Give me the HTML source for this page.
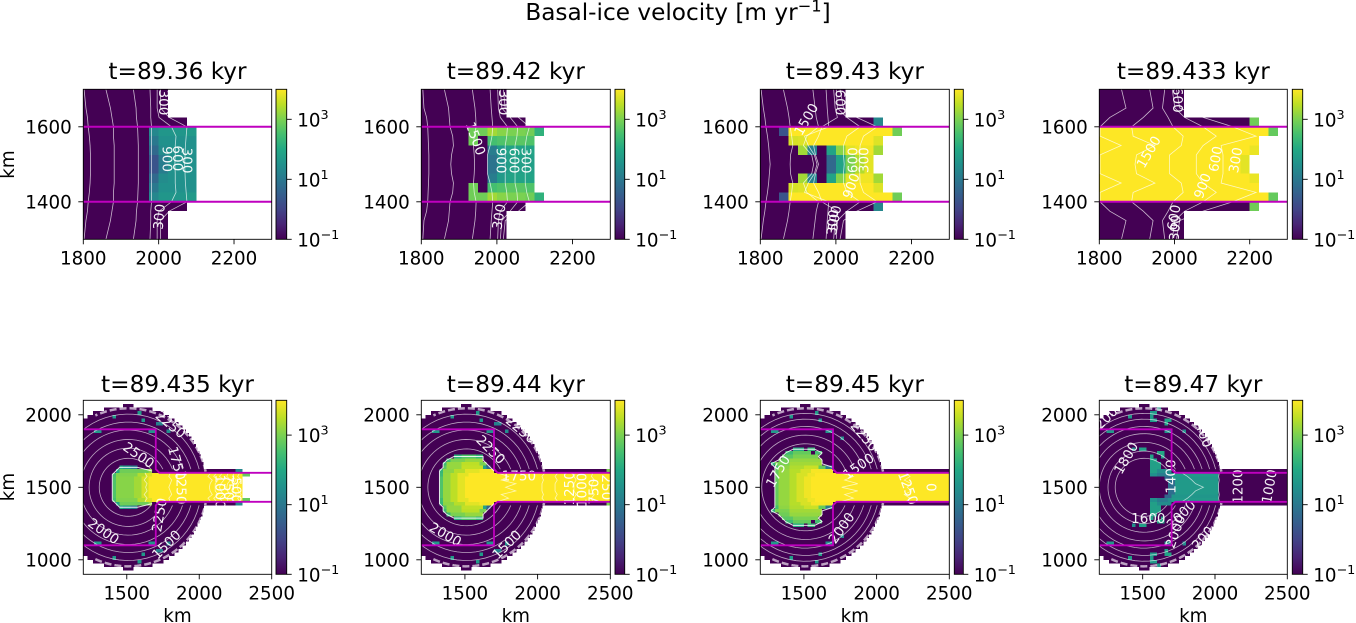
<!DOCTYPE html>
<html lang="en">
<head>
<meta charset="utf-8">
<title>Basal-ice velocity</title>
<style>
html,body{margin:0;padding:0;background:#fff;}
svg{display:block;font-family:"DejaVu Sans","Liberation Sans",sans-serif;}
</style>
</head>
<body>
<svg id="figure" xmlns="http://www.w3.org/2000/svg" width="1356" height="623" viewBox="0 0 1356 623">
  <defs>
    <linearGradient id="viridis-grad" x1="0" y1="1" x2="0" y2="0">
      <stop offset="0" stop-color="#440154"/><stop offset="0.1" stop-color="#482475"/>
      <stop offset="0.2" stop-color="#414487"/><stop offset="0.3" stop-color="#355f8d"/>
      <stop offset="0.4" stop-color="#2a788e"/><stop offset="0.5" stop-color="#21918c"/>
      <stop offset="0.6" stop-color="#22a884"/><stop offset="0.7" stop-color="#44bf70"/>
      <stop offset="0.8" stop-color="#7ad151"/><stop offset="0.9" stop-color="#bddf26"/>
      <stop offset="1" stop-color="#fde725"/>
    </linearGradient>
  </defs>
  <rect x="0" y="0" width="1356" height="623" fill="#fff"/>
  <text x="678" y="20" font-size="23.2" text-anchor="middle">Basal-ice velocity [m yr<tspan font-size="16.3" dy="-8.5">−1</tspan><tspan dy="8.5">]</tspan></text>

  <g id="panel-0"><text x="177.5" y="79" font-size="23.2" text-anchor="middle">t=89.36 kyr</text></g>
  <g id="panel-1"><text x="515.8" y="79" font-size="23.2" text-anchor="middle">t=89.42 kyr</text></g>
  <g id="panel-2"><text x="854.8" y="79" font-size="23.2" text-anchor="middle">t=89.43 kyr</text></g>
  <g id="panel-3"><text x="1193.3" y="79" font-size="23.2" text-anchor="middle">t=89.433 kyr</text></g>
  <g id="panel-4"><text x="177.5" y="392" font-size="23.2" text-anchor="middle">t=89.435 kyr</text></g>
  <g id="panel-5"><text x="515.8" y="392" font-size="23.2" text-anchor="middle">t=89.44 kyr</text></g>
  <g id="panel-6"><text x="854.8" y="392" font-size="23.2" text-anchor="middle">t=89.45 kyr</text></g>
  <g id="panel-7"><text x="1193.3" y="392" font-size="23.2" text-anchor="middle">t=89.47 kyr</text></g>

  <text x="0" y="0" transform="translate(14,164.5) rotate(-90)" font-size="18.3" text-anchor="middle">km</text>
  <text x="0" y="0" transform="translate(14,487) rotate(-90)" font-size="18.3" text-anchor="middle">km</text>
  <text x="177.5" y="622" font-size="18.3" text-anchor="middle">km</text>
  <text x="515.8" y="622" font-size="18.3" text-anchor="middle">km</text>
  <text x="854.8" y="622" font-size="18.3" text-anchor="middle">km</text>
  <text x="1193.3" y="622" font-size="18.3" text-anchor="middle">km</text>
</svg>
<script>
// ---- shared axis data ----
const D = -1;
const _ = null;
const topXTicks = [1800, 2000, 2200];
const topYTicks = [1400, 1600];
const bottomXTicks = [1500, 2000, 2500];
const bottomYTicks = [1000, 1500, 2000];
const colorbarTicks = [-1, 1, 3];
const colorbarTickLabels = ["−1", "1", "3"];
const colorLogMin = -1;
const colorLogMax = 4;
const viridisStops = ["#440154","#482475","#414487","#355f8d","#2a788e","#21918c","#22a884","#44bf70","#7ad151","#bddf26","#fde725"];

// ---- top-row velocity (log10 m/yr), 25 km cells, rows 1700->1500 (mirrored about 1500), cols from 1800 km ----
const topGrid0 = [
 [D,D,D,D,D,D,D,D,D],
 [D,D,D,D,D,D,D,D,D],
 [D,D,D,D,D,D,D,D,D],
 [D,D,D,D,D,D,D,D,D,D,D],
 [D,D,D,D,D,D,D,1.3,1.6,1.6,1.6,1.7],
 [D,D,D,D,D,D,D,1.0,1.5,1.5,1.5,1.5],
 [D,D,D,D,D,D,D,0.7,1.4,1.5,1.5,1.5],
 [D,D,D,D,D,D,D,0.3,1.1,1.5,1.5,1.5]
];
const topGrid1 = [
 [D,D,D,D,D,D,D,D,D],
 [D,D,D,D,D,D,D,D,D],
 [D,D,D,D,D,D,D,D,D],
 [D,D,D,D,D,D,D,D,D,D,D],
 [D,D,D,D,D,2.9,2.9,3.3,3.1,3.0,3.0,2.9,2.2],
 [D,D,D,D,D,2.9,D,2.5,2.6,2.7,2.7,2.6],
 [D,D,D,D,D,D,D,1.1,1.7,1.9,1.9,1.9],
 [D,D,D,D,D,D,D,0.9,1.5,1.8,1.8,1.8]
];
const topGrid2 = [
 [D,D,D,D,D,D,D,D,D],
 [D,D,D,D,D,D,D,D,D],
 [D,D,D,D,D,D,D,D,D],
 [D,D,D,D,D,D,D,D,D,D,D,D,1.3],
 [D,D,0.3,4,4,4,4,4,4,4,4,4,4,4,2.9],
 [D,D,D,3.7,3.75,4,4,4,4,4,4,4,3.75],
 [D,D,D,D,3.3,1.2,D,1.9,3.1,3.8,3.9,3.9,3.3],
 [D,D,D,D,D,D,D,0.7,1.9,3.0,3.4,3.8]
];
const topGrid3 = [
 [D,D,D,D,D,D,D,D,D],
 [D,D,D,D,D,D,D,D,D],
 [D,D,D,D,D,D,D,D,D],
 [D,D,D,D,D,D,D,D,D,D,D,D,D,D,D,D,2.9],
 [4,4,4,4,4,4,4,4,4,4,4,4,4,4,4,4,4,4,2.8],
 [4,4,4,4,4,4,4,4,4,4,4,4,4,4,4,4,4],
 [4,4,4,4,4,4,4,4,4,4,4,4,4,4,4,4,3.85],
 [4,4,4,4,4,4,4,4,4,4,4,4,4,4,4,3.8]
];
const topGrids = [topGrid0, topGrid1, topGrid2, topGrid3];

// contour x-position (km) per contour, at each of these y levels (mirrored about 1500)
const topContourY = [1700,1650,1625,1600,1575,1550,1525,1500];
const topContours0 = [
 [1802,1807,1811,1813,1816,1818,1819,1819],
 [1860,1872,1876,1880,1880,1882,1882,1882],
 [1933,1940,1941,1944,1945,1946,1946,1946],
 [1977,1979,1979,1981,1981,1981,1981,1981],
 [1996,1996,2001,2034,2046,2044,2044,2043],
 [2005,2005,2028,2075,2073,2071,2070,2069]
];
const topContours1 = [
 [1804,1807,1814,1817,1818,1819,1820,1820],
 [1861,1872,1874,1876,1883,1885,1880,1878],
 [1935,1942,1944,1945,1940,1938,1940,1941],
 [1982,1985,1987,1989,1987,1982,1975,1975],
 [2002,2004,2009,2028,2026,2022,2022,2022],
 [2009,2013,2035,2055,2053,2048,2048,2048],
 [2017,2022,2057,2086,2079,2075,2075,2075]
];
const topContours2 = [
 [1802,1808,1812,1815,1819,1822,1824,1826],
 [1861,1872,1876,1879,1883,1886,1880,1879],
 [1939,1945,1948,1954,1923,1914,1936,1941],
 [1974,1977,1979,1981,1917,1927,1943,1950],
 [1994,1998,2004,1963,1954,1941,1946,1954],
 [2001,2004,2029,2064,2029,2020,2020,2022],
 [2011,2020,2055,2109,2073,2064,2063,2063]
];
const topContours3 = [
 [1859,1871,1828,1802,1802,1858,1802,1802],
 [1934,1943,1917,1886,1890,1948,1899,1895],
 [1974,1968,1983,1996,2023,2018,1987,1987],
 [1994,2001,2027,2076,2111,2076,2058,2058],
 [2005,2014,2076,2155,2217,2124,2129,2129]
];
const topContours = [topContours0, topContours1, topContours2, topContours3];

// contour labels: text, x km, y km, rotation
const topLabels0 = [["300",2012,1665,90],["900",2021,1514,90],["600",2049,1516,90],["300",2074,1510,90],["300",2003,1360,-85]];
const topLabels1 = [["300",2016,1665,90],["1500",1942,1568,70],["900",2009,1510,90],["600",2044,1510,90],["300",2075,1510,90],["300",2007,1360,-80]];
const topLabels2 = [["1500",1923,1619,-60],["600",2010,1665,90],["600",2047,1511,-90],["300",2076,1511,-90],["900",2042,1442,-70],["500",1998,1356,-80],["300",1993,1345,-85]];
const topLabels3 = [["1500",1933,1532,-60],["600",2111,1514,-80],["300",2164,1511,-80],["900",2076,1442,-70],["600",2007,1672,90],["300",2003,1330,-85],["600",2000,1358,-80]];
const topLabels = [topLabels0, topLabels1, topLabels2, topLabels3];

// ---- bottom-row data: half rows j outward from y=1500, 25 km tall ----
const diskCentreX = 1510;
const diskHalfWidth = [530,530,530,530,530,523,519,512,502,491,479,468,454,438,420,399,376,346,318,281,242,166,37];
const channelEnd = [2300, 2500, 2500, 2500];
const rimRadius = 545;

const fastRuns0 = [
 [[1400,1425,2.6],[1425,1550,3.1],[1550,1600,3.3],[1600,1650,3.7],[1650,2300,4]],
 [[1400,1425,2.6],[1425,1550,3.1],[1550,1600,3.3],[1600,1650,3.7],[1650,2300,4]],
 [[1400,1425,2.6],[1425,1550,3.1],[1550,1600,3.3],[1600,1650,3.7],[1650,2300,4]],
 [[1400,1425,2.5],[1425,1575,3.05],[1575,1625,3.4],[1625,1675,3.75],[1675,2300,4],[2300,2350,2.8]],
 [[1425,1450,2.0],[1450,1650,2.9],[1650,1675,3.2],[2250,2300,1.3]],
 [[1450,1475,2.0],[1475,1525,1.6],[1525,1575,1.1]]
];
const fastRuns1 = [
 [[1325,1350,2.6],[1350,1400,3.2],[1400,1450,3.5],[1450,1500,3.8],[1500,2500,4]],
 [[1325,1350,2.6],[1350,1400,3.2],[1400,1450,3.5],[1450,1500,3.8],[1500,2500,4]],
 [[1325,1350,2.6],[1350,1400,3.2],[1400,1450,3.5],[1450,1500,3.8],[1500,2500,4]],
 [[1325,1350,2.4],[1350,1400,3.2],[1400,1450,3.5],[1450,1525,3.8],[1525,2500,4]],
 [[1325,1350,2.3],[1350,1425,3.15],[1425,1500,3.45],[1500,1600,3.8],[1600,1700,3.95],[2475,2500,3]],
 [[1350,1375,2.7],[1375,1475,3.2],[1475,1625,3.55],[1625,1650,1.9],[1650,1675,0.6]],
 [[1350,1375,2.4],[1375,1475,3.2],[1475,1600,3.5],[1600,1650,3.0]],
 [[1375,1400,2.4],[1400,1500,3.0],[1500,1625,3.2]],
 [[1425,1475,2.2],[1475,1575,2.6],[1575,1625,2.3]]
];
const fastRuns2 = [
 [[1300,1325,2.8],[1325,1400,3.2],[1400,1450,3.45],[1450,1500,3.7],[1500,1550,3.9],[1550,2500,4]],
 [[1300,1325,2.8],[1325,1400,3.2],[1400,1450,3.45],[1450,1500,3.7],[1500,1550,3.9],[1550,2500,4]],
 [[1300,1325,2.8],[1325,1400,3.2],[1400,1450,3.45],[1450,1500,3.7],[1500,1550,3.9],[1550,2500,4]],
 [[1300,1325,2.8],[1325,1400,3.2],[1400,1450,3.45],[1450,1525,3.7],[1525,1575,3.9],[1575,2500,4]],
 [[1300,1325,2.8],[1325,1400,3.2],[1400,1475,3.45],[1475,1550,3.7],[1550,1700,3.95]],
 [[1300,1325,2.5],[1325,1400,3.15],[1400,1500,3.4],[1500,1600,3.6],[1600,1650,2.8],[1650,1700,1.0]],
 [[1275,1300,2.2],[1300,1400,3.0],[1400,1625,3.3]],
 [[1325,1400,2.9],[1400,1625,3.2]],
 [[1350,1425,2.7],[1425,1600,3.0]],
 [[1375,1425,2.4],[1425,1550,2.8],[1575,1625,2.5]],
 [[1425,1500,2.1],[1525,1575,2.3]]
];
const fastRuns3 = [
 [[1675,1725,0.8],[1725,2025,1.7]],
 [[1675,1725,0.8],[1725,2025,1.7]],
 [[1650,1700,0.6],[1700,2025,1.6]],
 [[1550,1600,1.5],[1600,1675,1.1],[1675,1700,1.4],[1700,2025,1.7]],
 [[1550,1600,1.8],[1600,1700,1.4]],
 [[1550,1625,1.8]],
 [[1550,1625,1.8]],
 [[1550,1600,1.9]],
 [[1550,1575,1.9],[1625,1650,1.9]],
 [[1600,1650,2.0]],
 [[1425,1450,1.5],[1475,1525,1.8]]
];
const fastRuns = [fastRuns0, fastRuns1, fastRuns2, fastRuns3];
const outlinedPanels = [true, true, true, false];

// isolated fast cells: x km start, half-row j, width km, log10 velocity
const specks0 = [[1400,19,25,1.7],[1575,20,25,1.7],[1600,18,25,1.7],[1275,15,50,1.7],[1650,15,50,1.6],[1700,17,50,1.2],[1775,15,25,1.4]];
const specks1 = [[1400,19,25,1.7],[1575,20,25,1.7],[1600,18,25,1.7],[1275,15,50,1.7],[1650,15,50,1.6],[1700,17,50,1.2],[1775,15,25,1.4]];
const specks2 = [[1400,19,25,1.7],[1575,20,25,1.7],[1600,18,25,1.7],[1275,15,50,1.7],[1650,15,50,1.6],[1750,13,25,1.4]];
const specks3 = [[1400,19,25,1.7],[1550,20,50,1.7],[1550,19,25,1.7],[1550,18,50,1.7],[1650,18,50,1.9],[1650,17,25,1.9],[1600,21,25,1.7],[1250,15,50,1.7],[1650,15,50,1.6],[1775,15,25,1.4]];
const specks = [specks0, specks1, specks2, specks3];

// concentric contour radii (km)
const ringRadii0 = [200,270,330,395,450,505];
const ringRadii1 = [265,330,395,450,505];
const ringRadii2 = [300,360,420,470,510];
const ringRadii3 = [200,250,310,370,420,470,510];
const ringRadii = [ringRadii0, ringRadii1, ringRadii2, ringRadii3];

// channel contours: x km at each channel y level (mirrored about 1500)
const channelY = [1600,1575,1550,1525,1500];
const channelContours0 = [
 [1625,1640,1620,1640,1630],[1800,1790,1810,1800,1790],[2080,2060,2090,2075,2070],[2120,2100,2130,2110,2110],
 [2160,2140,2170,2150,2140],[2200,2190,2215,2195,2190],[2240,2230,2255,2235,2230],[2280,2265,2290,2270,2260]
];
const channelContours1 = [
 [1720,1800,1750,1850,1780],[2050,2030,2040,2030,2030],[2140,2120,2135,2120,2120],[2260,2250,2265,2250,2250],[2380,2370,2390,2375,2370]
];
const channelContours2 = [
 [1750,1840,1780,1870,1760],[2200,2230,2190,2240,2210]
];
const channelContours3 = [
 [1770,1810,1840,1865,1920],[2030,2025,2030,2025,2025]
];
const channelContours = [channelContours0, channelContours1, channelContours2, channelContours3];

const bottomLabels0 = [["2500",1580,1718,35],["2000",1338,1194,35],["2250",1730,1309,-80],["2250",1800,1930,40],["1500",1776,1102,-45],["1750",1841,1665,75],["1250",1870,1500,90],["1000",2140,1470,90],["750",2200,1500,90],["500",2250,1480,90]];
const bottomLabels1 = [["2250",1675,1757,45],["2250",1882,1895,40],["2000",1364,1171,30],["1500",1790,1102,-45],["1750",1871,1574,0],["1250",2224,1493,-90],["1000",2309,1482,-90],["750",2390,1470,-90],["250",2470,1500,90]];
const bottomLabels2 = [["2000",1762,1217,-55],["1250",2212,1493,70],["1500",1878,1642,-35],["1750",1325,1608,-60],["2250",1912,1849,50],["0",2370,1500,90]];
const bottomLabels3 = [["1800",1389,1700,-60],["1600",1539,1282,0],["2000",1730,1194,-70],["2000",1769,1309,-45],["1400",1700,1574,-90],["1200",2161,1505,-90],["1000",2380,1505,-80],["200",1251,1976,-45],["200",1919,1148,-50],["400",1919,1860,70]];
const bottomLabels = [bottomLabels0, bottomLabels1, bottomLabels2, bottomLabels3];

const wallUpper = [[1200,1900],[1700,1900],[1700,1625],[1725,1600],[2500,1600]];
const wallLower = [[1200,1100],[1700,1100],[1700,1375],[1725,1400],[2500,1400]];
const troughEdges = [1400, 1600];

// ---- layout (pixels), separate from the data above ----
const axLeft = [83.3, 421.3, 760.3, 1099.3];
const axRight = [271.7, 610.3, 949.3, 1287.3];
const cbLeft = [276, 615, 954.3, 1292.3];
const cbRight = [286.7, 624.7, 963.3, 1302.7];
const rowTop = [89.3, 400.3];
const rowBottom = [239.3, 574.3];
const rowXRange = [[1800, 2300], [1200, 2500]];
const rowYRange = [[1300, 1700], [900, 2100]];

const NS = "http://www.w3.org/2000/svg";

function colorFor(logV) {
  const t = Math.max(0, Math.min(1, (logV - colorLogMin) / (colorLogMax - colorLogMin)));
  const p = t * (viridisStops.length - 1);
  const i = Math.min(viridisStops.length - 2, Math.floor(p));
  const f = p - i;
  const a = viridisStops[i], b = viridisStops[i + 1];
  const ch = (s, k) => parseInt(s.substr(1 + 2 * k, 2), 16);
  const mix = k => Math.round(ch(a, k) + (ch(b, k) - ch(a, k)) * f);
  return "rgb(" + mix(0) + "," + mix(1) + "," + mix(2) + ")";
}
function make(tag, parent, attrs) {
  const e = document.createElementNS(NS, tag);
  for (const k in attrs) e.setAttribute(k, attrs[k]);
  parent.appendChild(e);
  return e;
}

function drawPanel(col, row) {
  const index = col + row * 4;
  const g = document.getElementById("panel-" + index);
  const L = axLeft[col], R = axRight[col], T = rowTop[row], B = rowBottom[row];
  const xr = rowXRange[row], yr = rowYRange[row];
  const X = km => L + (km - xr[0]) * (R - L) / (xr[1] - xr[0]);
  const Y = km => B - (km - yr[0]) * (B - T) / (yr[1] - yr[0]);

  const clip = make("clipPath", g, { id: "axes-clip-" + index });
  make("rect", clip, { x: L, y: T, width: R - L, height: B - T });

  const body = make("g", g, { "clip-path": "url(#axes-clip-" + index + ")" });
  
  
  const mesh = make("g", body, { "shape-rendering": "crispEdges" });
  
  

  const cell = (x0, x1, y0, y1, v) => {
    const r = make("rect", mesh, { x: X(x0), y: Y(y1), width: X(x1) - X(x0), height: Y(y0) - Y(y1), fill: colorFor(v) });
    
    
  };

  if (row === 0) {
    const half = topGrids[col];
    half.forEach((vals, i) => {
      vals.forEach((v, c) => {
        if (v === _) return;
        const x0 = 1800 + 25 * c;
        cell(x0, x0 + 25, 1700 - 25 * (i + 1), 1700 - 25 * i, v);
        cell(x0, x0 + 25, 1300 + 25 * i, 1300 + 25 * (i + 1), v);
      });
    });
    const lines = make("g", body, { fill: "none", stroke: "#fff", "stroke-width": 0.8, "stroke-opacity": 0.72 });
    
    
    topContours[col].forEach(xs => {
      const pts = [];
      xs.forEach((x, i) => pts.push(X(x) + "," + Y(topContourY[i])));
      for (let i = xs.length - 2; i >= 0; i--) pts.push(X(xs[i]) + "," + Y(3000 - topContourY[i]));
      const p = make("polyline", lines, { points: pts.join(" ") });
      
      
    });
  } else {
    const iceClip = make("clipPath", g, { id: "ice-clip-" + index });
    diskHalfWidth.forEach((hw, j) => {
      const baseEnd = j <= 4 ? Math.max(channelEnd[col], diskCentreX + hw) : diskCentreX + hw;
      cell(diskCentreX - hw, baseEnd, 1500 + 25 * j, 1500 + 25 * (j + 1), D);
      cell(diskCentreX - hw, baseEnd, 1500 - 25 * (j + 1), 1500 - 25 * j, D);
      make("rect", iceClip, { x: X(diskCentreX - hw), y: Y(1500 + 25 * (j + 1)), width: X(baseEnd) - X(diskCentreX - hw), height: Y(1500 - 25 * (j + 1)) - Y(1500 + 25 * (j + 1)) });
    });
    fastRuns[col].forEach((runs, j) => {
      runs.forEach(run => {
        cell(run[0], run[1], 1500 + 25 * j, 1500 + 25 * (j + 1), run[2]);
        cell(run[0], run[1], 1500 - 25 * (j + 1), 1500 - 25 * j, run[2]);
      });
    });
    specks[col].forEach(s => {
      cell(s[0], s[0] + s[2], 1500 + 25 * s[1], 1500 + 25 * (s[1] + 1), s[3]);
      cell(s[0], s[0] + s[2], 1500 - 25 * (s[1] + 1), 1500 - 25 * s[1], s[3]);
    });

    const lines = make("g", body, { fill: "none", stroke: "#fff", "stroke-width": 0.8, "stroke-opacity": 0.65, "clip-path": "url(#ice-clip-" + index + ")" });
    
    
    const arcPath = (r, a0, a1) => {
      const n = 60, pts = [];
      for (let i = 0; i <= n; i++) {
        const a = a0 + (a1 - a0) * i / n;
        pts.push(X(diskCentreX + r * Math.cos(a)) + "," + Y(1500 + r * Math.sin(a)));
      }
      return pts.join(" ");
    };
    ringRadii[col].forEach(r => {
      const a0 = Math.asin(Math.min(1, 125 / r));
      const p = make("polyline", lines, { points: arcPath(r, a0, 2 * Math.PI - a0) });
      
      
    });
    if (outlinedPanels[col]) {
      const runs = fastRuns[col];
      const up = [];
      for (let j = 4; j < runs.length; j++) {
        const inside = runs[j].filter(r => r[1] <= 1800);
        if (inside.length) up.push([inside[inside.length - 1][1], 1512.5 + 25 * j]);
      }
      for (let j = runs.length - 1; j >= 0; j--) up.push([runs[j][0][0], 1512.5 + 25 * j]);
      const full = up.concat(up.slice().reverse().map(p => [p[0], 3000 - p[1]]));
      const o = make("polyline", lines, { points: full.map(p => X(p[0]) + "," + Y(p[1])).join(" "), "stroke-width": 1, "stroke-opacity": 0.85 });
      
      
    }
    const rimTop = make("polyline", lines, { points: arcPath(rimRadius, 0.2, 2.0), stroke: "#f2e8f4", "stroke-width": 2.5, "stroke-dasharray": "7 3", "stroke-opacity": 0.7 });
    
    
    const rimBottom = make("polyline", lines, { points: arcPath(rimRadius, -2.0, -0.2), stroke: "#f2e8f4", "stroke-width": 2.5, "stroke-dasharray": "7 3", "stroke-opacity": 0.7 });
    
    
    channelContours[col].forEach(xs => {
      const pts = [];
      xs.forEach((x, i) => pts.push(X(x) + "," + Y(channelY[i])));
      for (let i = xs.length - 2; i >= 0; i--) pts.push(X(xs[i]) + "," + Y(3000 - channelY[i]));
      const p = make("polyline", lines, { points: pts.join(" ") });
      
      
    });
  }

  // contour labels
  const labels = row === 0 ? topLabels[col] : bottomLabels[col];
  labels.forEach(l => {
    const t = make("text", body, { x: X(l[1]), y: Y(l[2]), "font-size": 13.5, fill: "#fff", "fill-opacity": 0.95, "text-anchor": "middle", "dominant-baseline": "central", transform: "rotate(" + l[3] + " " + X(l[1]) + " " + Y(l[2]) + ")" });
    t.textContent = l[0];
    
    
  });

  // magenta grounding walls
  const wallStyle = { fill: "none", stroke: "#bf00bf", "stroke-width": row === 0 ? 2 : 1.8 };
  if (row === 0) {
    troughEdges.forEach(y => {
      const w = make("line", body, Object.assign({ x1: L, x2: R, y1: Y(y), y2: Y(y) }, wallStyle));
      
      
    });
  } else {
    [wallUpper, wallLower].forEach(path => {
      const w = make("polyline", body, Object.assign({ points: path.map(p => X(p[0]) + "," + Y(p[1])).join(" ") }, wallStyle));
      
      
    });
  }

  // frame and ticks
  const frame = make("rect", g, { x: L, y: T, width: R - L, height: B - T, fill: "none", stroke: "#000", "stroke-width": 0.9 });
  
  
  const xt = row === 0 ? topXTicks : bottomXTicks;
  const yt = row === 0 ? topYTicks : bottomYTicks;
  xt.forEach(v => {
    const tick = make("line", g, { x1: X(v), x2: X(v), y1: B, y2: B + 5, stroke: "#000", "stroke-width": 0.9 });
    
    
    const t = make("text", g, { x: X(v), y: B + 25, "font-size": 18.3, "text-anchor": "middle" });
    t.textContent = String(v);
    
    
  });
  yt.forEach(v => {
    const tick = make("line", g, { x1: L - 5, x2: L, y1: Y(v), y2: Y(v), stroke: "#000", "stroke-width": 0.9 });
    
    
    const t = make("text", g, { x: L - 11.5, y: Y(v) + 6.7, "font-size": 18.3, "text-anchor": "end" });
    t.textContent = String(v);
    
    
  });

  // colorbar
  const cbL = cbLeft[col], cbR = cbRight[col];
  const bar = make("rect", g, { x: cbL, y: T, width: cbR - cbL, height: B - T, fill: "url(#viridis-grad)", stroke: "#000", "stroke-width": 0.9 });
  
  
  colorbarTicks.forEach((v, i) => {
    const y = B - (v - colorLogMin) * (B - T) / (colorLogMax - colorLogMin);
    const tick = make("line", g, { x1: cbR, x2: cbR + 5, y1: y, y2: y, stroke: "#000", "stroke-width": 0.9 });
    
    
    const t = make("text", g, { x: cbR + 10.5, y: y + 7, "font-size": 18.3 });
    
    
    const base = make("tspan", t, {});
    base.textContent = "10";
    const sup = make("tspan", t, { "font-size": 12.8, dy: -7.5 });
    sup.textContent = colorbarTickLabels[i];
  });
}

for (let row = 0; row < 2; row++) {
  for (let col = 0; col < 4; col++) drawPanel(col, row);
}
</script>
</body>
</html>
